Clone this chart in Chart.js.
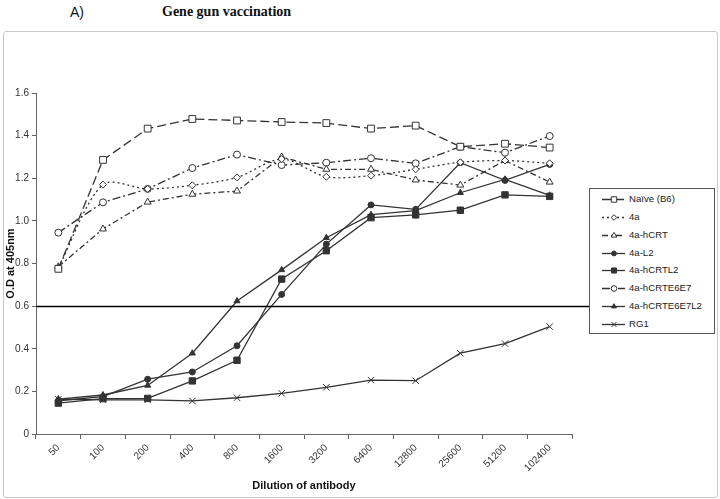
<!DOCTYPE html>
<html>
<head>
<meta charset="utf-8">
<script src="https://cdn.jsdelivr.net/npm/chart.js@4.4.0/dist/chart.umd.min.js"></script>
<style>
  body { margin: 0; background: #fff; }
  #wrap { position: relative; width: 720px; height: 499px; overflow: hidden; }
  #frame { position: absolute; left: 3px; top: 31px; width: 713px; height: 465px; border: 1px solid #c8c8c8; border-radius: 3px; }
  #chart { position: absolute; left: 0; top: 0; }
  .cap { position: absolute; top: 4px; font-size: 14px; color: #111; }
  #capA { left: 70px; font-family: "Liberation Sans", Arial, sans-serif; }
  #capT { left: 162px; font-family: "Liberation Serif", "Times New Roman", serif; font-weight: bold; }
  #legend { position: absolute; left: 589px; top: 188px; width: 124px; height: 144px; border: 1px solid #555; background: #fff; }
  .item { position: absolute; left: 0; height: 18px; width: 124px; font: 9.6px "Liberation Sans", Arial, sans-serif; color: #222; }
  .item canvas { position: absolute; left: 11px; top: 3px; }
  .item span { position: absolute; left: 39px; top: 3px; }
</style>
</head>
<body>
<div id="wrap">
  <div id="frame"></div>
  <div class="cap" id="capA">A)</div>
  <div class="cap" id="capT">Gene gun vaccination</div>
  <canvas id="chart" width="720" height="499"></canvas>
  <div id="legend"></div>
</div>
<script>
// 希釈倍率 (x軸)
const dilutions = ['50', '100', '200', '400', '800', '1600', '3200', '6400', '12800', '25600', '51200', '102400'];

// 各群の O.D 値
const naiveB6    = [0.775, 1.286, 1.433, 1.478, 1.471, 1.464, 1.459, 1.433, 1.447, 1.348, 1.362, 1.344];
const g4a        = [0.780, 1.170, 1.150, 1.167, 1.204, 1.290, 1.207, 1.212, 1.242, 1.275, 1.283, 1.270];
const g4ahCRT    = [0.785, 0.962, 1.088, 1.125, 1.140, 1.300, 1.242, 1.242, 1.192, 1.168, 1.283, 1.182];
const g4aL2      = [0.156, 0.175, 0.257, 0.291, 0.414, 0.655, 0.891, 1.075, 1.054, 1.273, 1.190, 1.265];
const g4ahCRTL2  = [0.145, 0.166, 0.167, 0.249, 0.346, 0.727, 0.860, 1.015, 1.028, 1.050, 1.122, 1.115];
const g4aE6E7    = [0.945, 1.087, 1.150, 1.248, 1.311, 1.262, 1.273, 1.294, 1.270, 1.348, 1.320, 1.398];
const g4aE6E7L2  = [0.164, 0.183, 0.228, 0.379, 0.624, 0.770, 0.921, 1.029, 1.048, 1.132, 1.195, 1.120];
const rg1        = [0.163, 0.160, 0.160, 0.155, 0.170, 0.191, 0.219, 0.253, 0.250, 0.379, 0.424, 0.504];

// カットオフ線
const cutoff = 0.6;
const yTicks = [0, 0.2, 0.4, 0.6, 0.8, 1, 1.2, 1.4, 1.6];

const INK = '#333';
const LEGEND_LEFT = 589;

function series(label, data, style, radius, filled, dash, tension) {
    return {
        label: label,
        data: data,
        borderColor: INK,
        backgroundColor: filled ? INK : '#fff',
        borderWidth: 1.3,
        borderDash: dash,
        pointStyle: style,
        pointRadius: radius,
        pointBorderWidth: 1,
        pointBorderColor: INK,
        pointBackgroundColor: filled ? INK : '#fff',
        tension: tension || 0,
        fill: false
    };
}

const datasets = [
    series('Naïve (B6)', naiveB6, 'rect', 4.8, false, [9, 4]),
    series('4a', g4a, 'rectRot', 3.5, false, [2, 3], 0.3),
    series('4a-hCRT', g4ahCRT, 'triangle', 4, false, [6, 3, 2, 3]),
    series('4a-L2', g4aL2, 'circle', 3, true, []),
    series('4a-hCRTL2', g4ahCRTL2, 'rect', 4.5, true, []),
    series('4a-hCRTE6E7', g4aE6E7, 'circle', 3.5, false, [8, 3, 2, 3]),
    series('4a-hCRTE6E7L2', g4aE6E7L2, 'triangle', 3.5, true, []),
    series('RG1', rg1, 'crossRot', 4.5, false, [])
];

// 0.6 の水平線 (凡例の手前まで)
const cutoffLine = {
    id: 'cutoffLine',
    afterDatasetsDraw(chart) {
        const y = Math.round(chart.scales.y.getPixelForValue(cutoff)) + 0.5;
        const ctx = chart.ctx;
        ctx.save();
        ctx.strokeStyle = '#000';
        ctx.lineWidth = 1.5;
        ctx.beginPath();
        ctx.moveTo(chart.chartArea.left, y);
        ctx.lineTo(LEGEND_LEFT, y);
        ctx.stroke();
        ctx.restore();
    }
};

const tickFont = { family: '"Liberation Sans", Arial, sans-serif', size: 10 };
const titleFont = { family: '"Liberation Sans", Arial, sans-serif', size: 11, weight: 'bold' };

new Chart(document.getElementById('chart'), {
    type: 'line',
    data: { labels: dilutions, datasets: datasets },
    options: {
        responsive: false,
        animation: false,
        layout: { padding: { left: 0, top: 93, right: 148, bottom: 2 } },
        plugins: { legend: { display: false }, tooltip: { enabled: false } },
        scales: {
            x: {
                offset: true,
                grid: { offset: true, drawOnChartArea: false, drawTicks: true, tickLength: 5, color: '#666' },
                border: { display: true, color: '#666', width: 1 },
                ticks: { autoSkip: false, minRotation: 45, maxRotation: 45, font: tickFont, color: '#333', padding: 3 },
                title: { display: true, text: 'Dilution of antibody', font: titleFont, color: '#111', padding: { top: 0, bottom: 4 } },
                afterFit(s) { s.height = 63; }
            },
            y: {
                min: 0,
                max: 1.6,
                afterBuildTicks(s) { s.ticks = yTicks.map(v => ({ value: v })); },
                grid: { drawOnChartArea: false, drawTicks: true, tickLength: 4, color: '#666' },
                border: { display: true, color: '#666', width: 1 },
                ticks: { font: tickFont, color: '#333', padding: 3 },
                title: { display: true, text: 'O.D at 405nm', font: titleFont, color: '#111', padding: { top: 4, bottom: 0 } },
                afterFit(s) { s.width = 36; }
            }
        }
    },
    plugins: [cutoffLine]
});

// 凡例 (HTML)
const legendBox = document.getElementById('legend');
datasets.forEach((ds, i) => {
    const item = document.createElement('div');
    item.className = 'item';
    item.style.top = (1 + i * 17.85) + 'px';
    const c = document.createElement('canvas');
    c.width = 26;
    c.height = 12;
    const ctx = c.getContext('2d');
    ctx.strokeStyle = INK;
    ctx.lineWidth = 1.3;
    ctx.setLineDash(ds.borderDash);
    ctx.beginPath();
    ctx.moveTo(1, 6.5);
    ctx.lineTo(24, 6.5);
    ctx.stroke();
    ctx.setLineDash([]);
    ctx.fillStyle = ds.pointBackgroundColor;
    ctx.strokeStyle = INK;
    ctx.lineWidth = 1;
    Chart.helpers.drawPoint(ctx, { pointStyle: ds.pointStyle, radius: ds.pointRadius * 0.8, rotation: 0, borderWidth: 1 }, 13, 6.5);
    const t = document.createElement('span');
    t.textContent = ds.label;
    item.appendChild(c);
    item.appendChild(t);
    legendBox.appendChild(item);
});
</script>
</body>
</html>
